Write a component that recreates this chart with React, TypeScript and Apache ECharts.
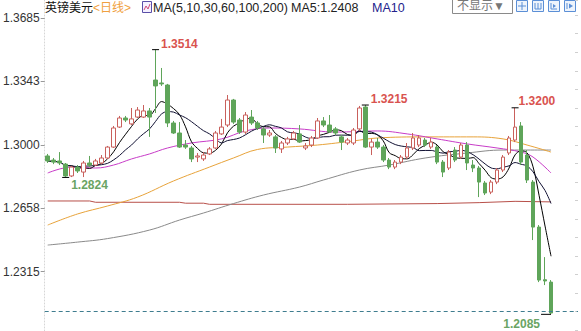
import React, { useEffect, useRef } from "react";
import * as echarts from "echarts";

// ---- data ----
const opens = [
  1.2940, 1.2918, 1.2913, 1.2896, 1.2832, 1.2880, 1.2853, 1.2902, 1.2891, 1.2902,
  1.2929, 1.2988, 1.3096, 1.3145, 1.3113, 1.3150, 1.3150, 1.3183, 1.3350, 1.3334,
  1.3323, 1.3118, 1.3064, 1.2999, 1.2983, 1.2934, 1.2924, 1.2951, 1.2983, 1.3059,
  1.3107, 1.3242, 1.3134, 1.3069, 1.3150, 1.3118, 1.3086, 1.3053, 1.3043, 1.2978,
  1.3010, 1.3032, 1.3059, 1.2983, 1.2999, 1.3037, 1.3129, 1.3107, 1.3086, 1.3043,
  1.3010, 1.3010, 1.3086, 1.3204, 1.2988, 1.3015, 1.2988, 1.2918, 1.2880, 1.2907,
  1.2934, 1.2983, 1.2999, 1.3026, 1.2988, 1.2988, 1.2907, 1.2875, 1.2972, 1.2934,
  1.2999, 1.2891, 1.2875, 1.2794, 1.2745, 1.2799, 1.2864, 1.2956, 1.3026, 1.3102,
  1.2945, 1.2799, 1.2556, 1.2272, 1.2259,
];
const closes = [
  1.2913, 1.2907, 1.2902, 1.2832, 1.2880, 1.2859, 1.2902, 1.2891, 1.2913, 1.2929,
  1.2988, 1.3091, 1.3145, 1.3134, 1.3140, 1.3188, 1.3183, 1.3150, 1.3318, 1.3329,
  1.3118, 1.3064, 1.2988, 1.2988, 1.2924, 1.2940, 1.2945, 1.2978, 1.3064, 1.3096,
  1.3242, 1.3123, 1.3069, 1.3161, 1.3118, 1.3091, 1.3053, 1.3064, 1.2983, 1.3010,
  1.3032, 1.3064, 1.3015, 1.2994, 1.3037, 1.3129, 1.3107, 1.3069, 1.3064, 1.3015,
  1.3026, 1.3080, 1.3199, 1.2988, 1.3015, 1.2988, 1.2918, 1.2880, 1.2907, 1.2934,
  1.2983, 1.3037, 1.3037, 1.2999, 1.3015, 1.2907, 1.2853, 1.2961, 1.2918, 1.2999,
  1.2902, 1.2875, 1.2799, 1.2740, 1.2799, 1.2864, 1.2934, 1.3037, 1.3096, 1.2907,
  1.2810, 1.2556, 1.2270, 1.2265, 1.2092,
];
const lows = [
  1.2902, 1.2896, 1.2891, 1.2824, 1.2826, 1.2848, 1.2826, 1.2880, 1.2886, 1.2896,
  1.2924, 1.2983, 1.3091, 1.3123, 1.3107, 1.3145, 1.3145, 1.3043, 1.3172, 1.3318,
  1.3096, 1.3059, 1.2983, 1.2978, 1.2907, 1.2907, 1.2913, 1.2945, 1.2978, 1.3053,
  1.3096, 1.3113, 1.3059, 1.3059, 1.3107, 1.3080, 1.3010, 1.3043, 1.2956, 1.2956,
  1.2999, 1.3026, 1.3010, 1.2972, 1.2988, 1.3032, 1.3096, 1.3064, 1.3053, 1.2972,
  1.2999, 1.2999, 1.3075, 1.2983, 1.2945, 1.2978, 1.2907, 1.2869, 1.2869, 1.2896,
  1.2924, 1.2972, 1.2988, 1.2988, 1.2978, 1.2896, 1.2826, 1.2864, 1.2907, 1.2924,
  1.2864, 1.2853, 1.2718, 1.2729, 1.2734, 1.2788, 1.2853, 1.2945, 1.3015, 1.2891,
  1.2794, 1.2486, 1.2259, 1.2243, 1.2085,
];
const highs = [
  1.2951, 1.2929, 1.2961, 1.2902, 1.2886, 1.2891, 1.2913, 1.2940, 1.2924, 1.2945,
  1.2994, 1.3102, 1.3156, 1.3156, 1.3199, 1.3204, 1.3215, 1.3199, 1.3514, 1.3415,
  1.3329, 1.3129, 1.3123, 1.3026, 1.2994, 1.2956, 1.2961, 1.2988, 1.3075, 1.3140,
  1.3269, 1.3248, 1.3145, 1.3177, 1.3188, 1.3129, 1.3096, 1.3080, 1.3053, 1.3021,
  1.3043, 1.3075, 1.3107, 1.3010, 1.3048, 1.3145, 1.3150, 1.3161, 1.3096, 1.3053,
  1.3037, 1.3091, 1.3210, 1.3215, 1.3032, 1.3037, 1.2999, 1.2929, 1.2918, 1.2945,
  1.3010, 1.3064, 1.3053, 1.3037, 1.3037, 1.2999, 1.2918, 1.2972, 1.2988, 1.3010,
  1.3015, 1.2918, 1.2886, 1.2805, 1.2810, 1.2875, 1.2945, 1.3048, 1.3200, 1.3123,
  1.2972, 1.2810, 1.2567, 1.2394, 1.2270,
];

// longer moving averages: [session index, value]
const ma30Points = [
  [0, 1.2848], [4, 1.2880], [8, 1.2875], [11, 1.2891], [14, 1.2924], [17, 1.2951],
  [20, 1.2983], [24, 1.3010], [29, 1.3032], [33, 1.3075], [37, 1.3091], [42, 1.3086],
  [48, 1.3069], [55, 1.3075], [60, 1.3059], [65, 1.3032], [70, 1.3005], [75, 1.2983],
  [79, 1.2961], [81, 1.2934], [84, 1.2848],
];
const ma60Points = [
  [0, 1.2567], [5, 1.2627], [10, 1.2670], [15, 1.2718], [21, 1.2805], [27, 1.2880],
  [31, 1.2929], [35, 1.2975], [40, 1.2988], [45, 1.2999], [51, 1.3021], [55, 1.3037],
  [63, 1.3043], [71, 1.3043], [76, 1.3032], [80, 1.2999], [84, 1.2961],
];
const ma100Points = [
  [0, 1.2459], [5, 1.2475], [10, 1.2494], [17, 1.2540], [22, 1.2594], [26, 1.2632],
  [31, 1.2683], [36, 1.2729], [42, 1.2772], [46, 1.2810], [52, 1.2864], [57, 1.2891],
  [63, 1.2929], [70, 1.2956], [76, 1.2972], [84, 1.2972],
];
const ma200Points = [
  [0, 1.2697], [7, 1.2697], [8, 1.2690], [22, 1.2690], [23, 1.2685], [26, 1.2685],
  [27, 1.2679], [50, 1.2679], [65, 1.2683], [72, 1.2688], [78, 1.2695], [84, 1.2692],
];

const yTickValues = [1.2315, 1.2658, 1.3, 1.3343, 1.3685];
const yMin = 1.1995;
const yMax = 1.3782;
const lastLow = 1.2085;
const ma5Text = "MA5:1.2408";

// labelled extremes: session index, value, kind
const extremes = [
  { idx: 18, value: 1.3514, kind: "high" },
  { idx: 53, value: 1.3215, kind: "high" },
  { idx: 78, value: 1.32, kind: "high" },
  { idx: 3, value: 1.2824, kind: "low" },
  { idx: 84, value: 1.2085, kind: "last" },
];

const PAD_SESSIONS = 4;

function movingAverage(period: number) {
  return closes.map((_, i) => {
    const start = Math.max(0, i - period + 1);
    const win = closes.slice(start, i + 1);
    return +(win.reduce((a, b) => a + b, 0) / win.length).toFixed(5);
  });
}

const FONT = 'Arial, "Liberation Sans", "Noto Sans CJK SC", sans-serif';
const UP = "#c9605c";
const DOWN = "#5fa55a";

export default function App() {
  const ref = useRef<HTMLDivElement>(null);
  useEffect(() => {
    document.body.style.margin = "0";
    if (!ref.current) return;
    const chart = echarts.init(ref.current, null, { renderer: "svg" });
    const total = closes.length + PAD_SESSIONS;
    const categories = Array.from({ length: total }, (_, i) => String(i + 1));
    const candles = opens.map((o, i) => [o, closes[i], lows[i], highs[i]]);

    const markData = extremes.map((e) => {
      const isHigh = e.kind === "high";
      const isLast = e.kind === "last";
      let offset = [2, -6];
      if (e.idx === 78) offset = [0, -7];
      if (e.kind === "low") offset = [2, 8];
      if (isLast) offset = [-1, 10];
      return {
        coord: [e.idx, e.value],
        value: e.value,
        symbol: "rect",
        symbolSize: isLast ? [10, 1] : [7, 1],
        symbolOffset: isLast ? [-5, 0] : [0, 0],
        itemStyle: { color: "#000" },
        label: {
          show: true,
          position: isLast ? "left" : "right",
          distance: 0,
          offset,
          formatter: (p: any) => Number(p.value).toFixed(4),
          color: isHigh ? "#d9534f" : "#6aa464",
          fontWeight: "bold",
          fontSize: 12,
          fontFamily: FONT,
        },
      };
    });

    const lineSeries = (name: string, data: any, color: string, smooth: any) => ({
      name,
      type: "line",
      data,
      showSymbol: false,
      symbol: "none",
      smooth,
      connectNulls: true,
      silent: true,
      lineStyle: { color, width: 1 },
      z: 3,
    });

    const iconXs = [516, 532, 548, 564];

    chart.setOption({
      animation: false,
      grid: { left: 43, right: 3, top: 0, bottom: 0 },
      xAxis: {
        type: "category",
        data: categories,
        boundaryGap: true,
        axisLine: { show: false },
        axisTick: { show: false },
        axisLabel: { show: false },
        splitLine: { show: false },
      },
      yAxis: [
        {
          type: "value",
          min: yMin,
          max: yMax,
          position: "left",
          axisLine: { show: true, lineStyle: { color: "#d6d6d6", type: [1, 2] } },
          axisTick: { show: true, customValues: yTickValues, length: 4, lineStyle: { color: "#999" } },
          axisLabel: {
            show: true,
            customValues: yTickValues,
            formatter: (v: number) => v.toFixed(4),
            color: "#333",
            fontSize: 12,
            fontFamily: FONT,
            margin: 5,
          },
          splitLine: { show: false },
        },
        {
          type: "value",
          min: yMin,
          max: yMax,
          position: "right",
          splitNumber: 18,
          axisLine: { show: false },
          axisTick: { show: true, length: 3, inside: true, lineStyle: { color: "#cfcfcf" } },
          axisLabel: { show: false },
          splitLine: { show: false },
        },
      ],
      series: [
        lineSeries("MA200", ma200Points, "#b8504a", false),
        lineSeries("MA100", ma100Points, "#8a8a8a", 0.4),
        lineSeries("MA60", ma60Points, "#e8a33a", 0.4),
        lineSeries("MA30", ma30Points, "#c83cc8", 0.4),
        {
          name: "K",
          type: "candlestick",
          data: candles,
          barWidth: 4,
          z: 4,
          itemStyle: {
            color: "#ffffff",
            color0: DOWN,
            borderColor: UP,
            borderColor0: DOWN,
            borderWidth: 1,
          },
          markPoint: { data: markData, silent: true, z: 10 },
          markLine: {
            silent: true,
            symbol: ["none", "none"],
            label: { show: false },
            lineStyle: { type: [4, 3], color: "#3f7d8f", width: 1 },
            data: [{ yAxis: lastLow }],
          },
        },
        lineSeries("MA5", movingAverage(5), "#000000", 0.35),
        lineSeries("MA10", movingAverage(10), "#111133", 0.35),
      ],
      graphic: [
        { type: "text", x: 45, y: 8, style: { text: "英镑美元", fill: "#111", font: `12px ${FONT}`, verticalAlign: "middle" } },
        { type: "text", x: 93, y: 8, style: { text: "<日线>", fill: "#f0a040", font: `12px ${FONT}`, verticalAlign: "middle" } },
        { type: "rect", shape: { x: 142.5, y: 1.5, width: 9, height: 11 }, style: { fill: "#f4f0ff", stroke: "#5a4fa8", lineWidth: 1 } },
        { type: "polyline", shape: { points: [[144, 10], [146, 6], [148, 9], [150, 4]] }, style: { stroke: "#d04a7a", lineWidth: 1, fill: "none" } },
        { type: "text", x: 153, y: 8, style: { text: "MA(5,10,30,60,100,200)", fill: "#222", font: `12.5px ${FONT}`, verticalAlign: "middle" } },
        { type: "text", x: 291, y: 8, style: { text: ma5Text, fill: "#222", font: `12.5px ${FONT}`, verticalAlign: "middle" } },
        { type: "text", x: 372, y: 8, style: { text: "MA10", fill: "#23238c", font: `12.5px ${FONT}`, verticalAlign: "middle" } },
        { type: "rect", shape: { x: 452.5, y: -1.5, width: 60, height: 15 }, style: { fill: "#fff", stroke: "#8a8a8a", lineWidth: 1 } },
        { type: "text", x: 457, y: 6, style: { text: "不显示▼", fill: "#777", font: `12px ${FONT}`, verticalAlign: "middle" } },
        ...iconXs.map((x) => ({
          type: "rect",
          shape: { x: x + 0.5, y: 0.5, width: 11, height: 11 },
          style: { fill: "#eef4fc", stroke: "#5b8fd6", lineWidth: 1 },
        })),
        { type: "line", shape: { x1: 522, y1: 2, x2: 522, y2: 10 }, style: { stroke: "#5b8fd6", lineWidth: 1 } },
        { type: "line", shape: { x1: 518, y1: 6, x2: 526, y2: 6 }, style: { stroke: "#5b8fd6", lineWidth: 1 } },
        { type: "polyline", shape: { points: [[535, 3], [535, 9], [541, 9], [541, 3]] }, style: { stroke: "#5b8fd6", lineWidth: 1, fill: "none" } },
        { type: "line", shape: { x1: 538, y1: 3, x2: 538, y2: 9 }, style: { stroke: "#5b8fd6", lineWidth: 1 } },
        { type: "polyline", shape: { points: [[551, 3], [551, 9], [557, 9]] }, style: { stroke: "#5b8fd6", lineWidth: 1, fill: "none" } },
        { type: "polygon", shape: { points: [[553, 4], [556, 6], [553, 8]] }, style: { fill: "#5b8fd6" } },
        { type: "line", shape: { x1: 567, y1: 3, x2: 567, y2: 9 }, style: { stroke: "#5b8fd6", lineWidth: 1 } },
        { type: "polygon", shape: { points: [[569, 3.5], [573, 6], [569, 8.5]] }, style: { fill: "#5b8fd6" } },
      ],
    });
    return () => chart.dispose();
  }, []);
  return <div ref={ref} style={{ width: 581, height: 331 }} />;
}
